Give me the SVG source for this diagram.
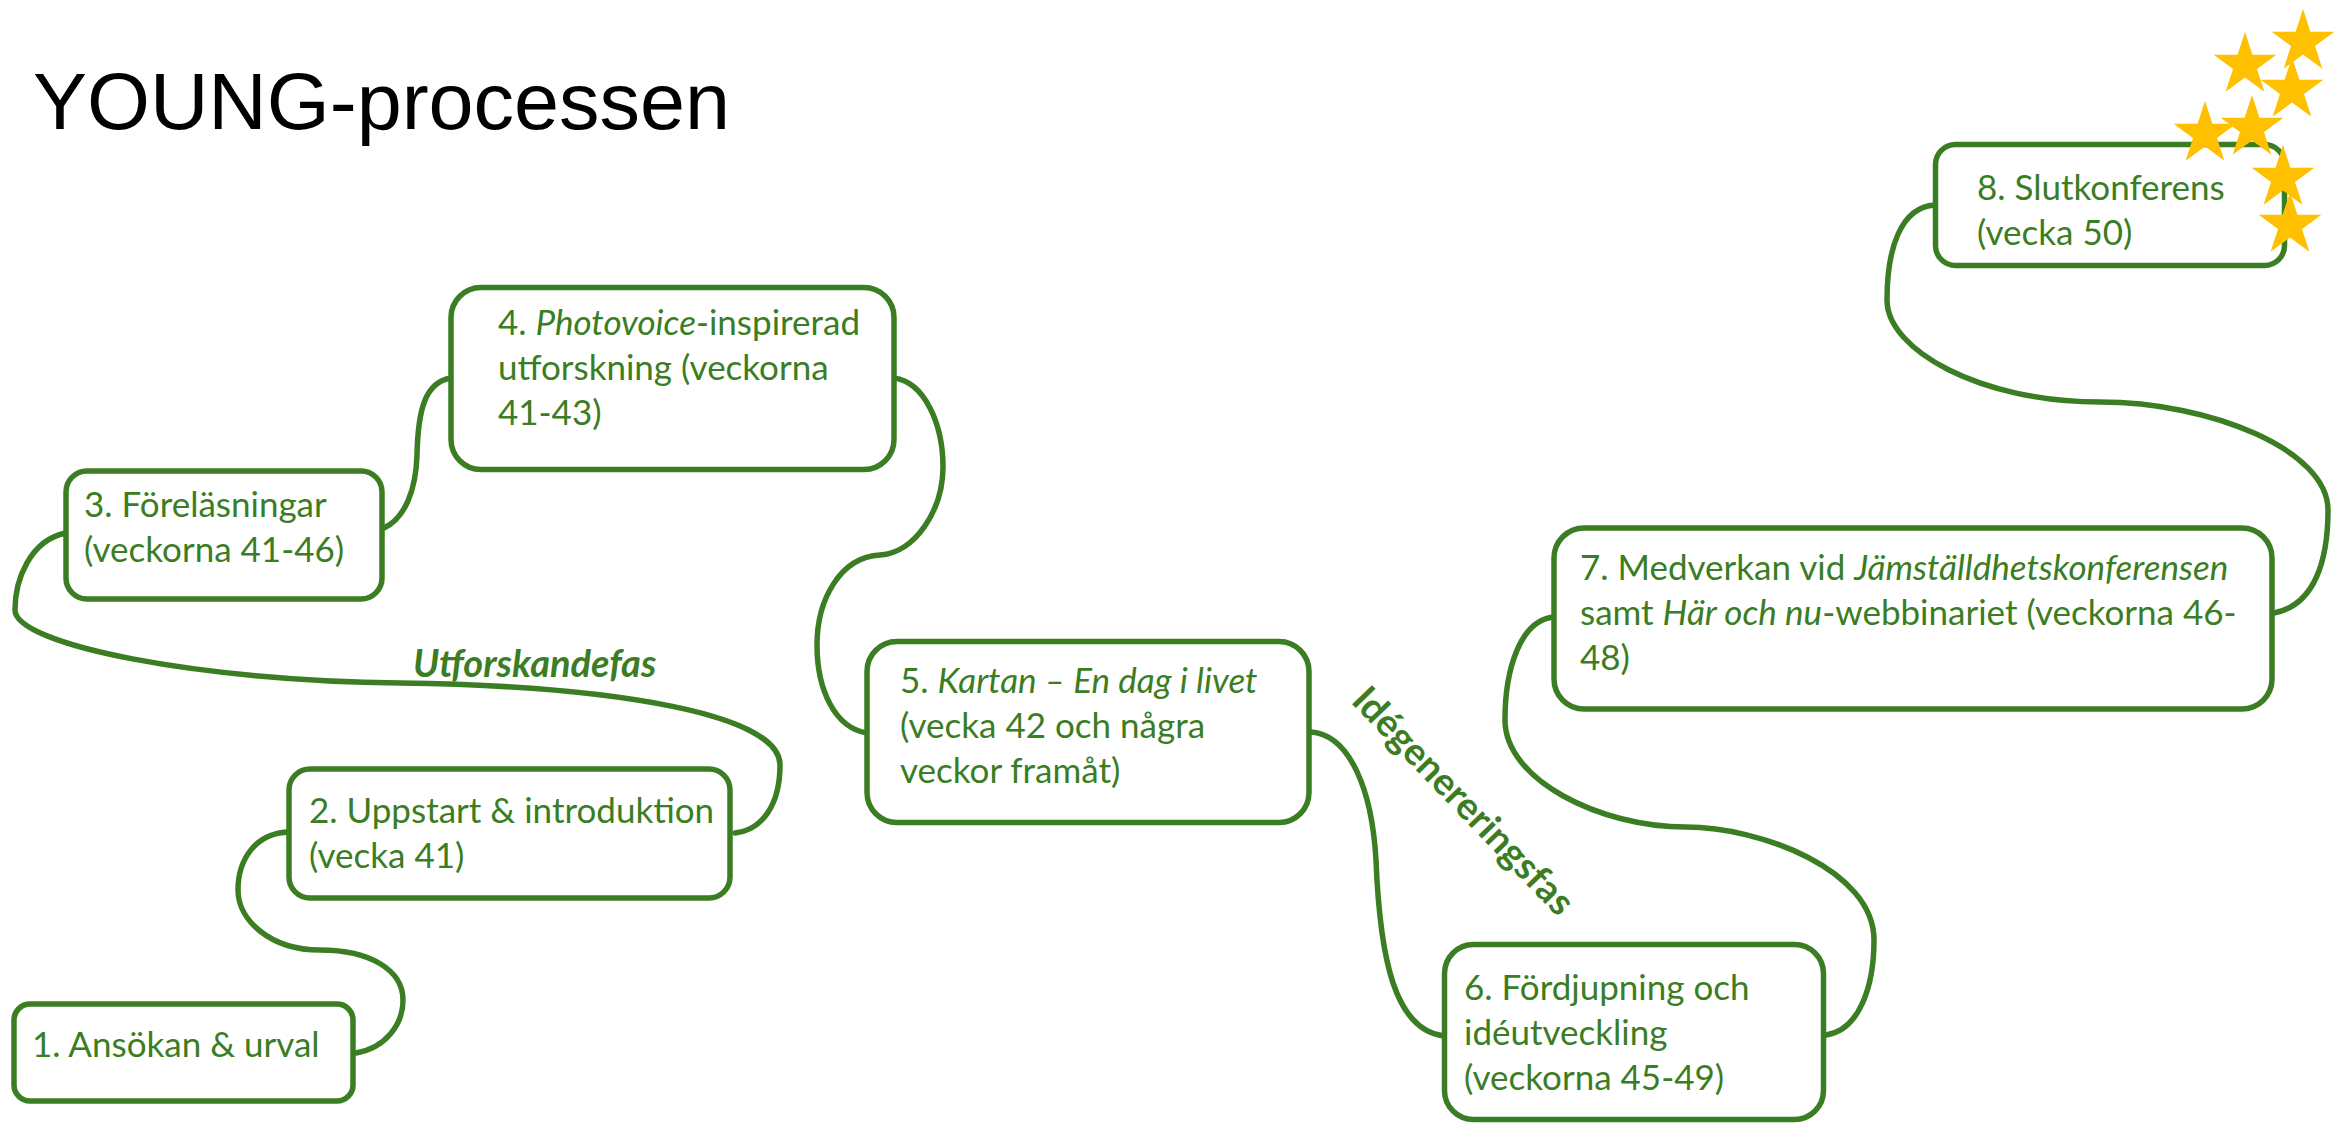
<svg xmlns="http://www.w3.org/2000/svg" xmlns:xlink="http://www.w3.org/1999/xlink" width="2346" height="1126" viewBox="0 0 2346 1126">
<style>
.box{fill:#ffffff;stroke:#3B7D23;stroke-width:5.5}
.con{fill:none;stroke:#3B7D23;stroke-width:5.5;stroke-linecap:round}
.t{font-family:Lato,"Open Sans","Liberation Sans",sans-serif;font-size:35px;fill:#3B7D23}
.i{font-style:italic}
.phase{font-family:Lato,"Open Sans","Liberation Sans",sans-serif;font-size:38px;font-weight:bold;fill:#3B7D23}
.title{font-family:"Liberation Sans",Arial,sans-serif;font-size:80px;fill:#000000}
.star{fill:#FFC000}
</style>
<defs>
<polygon id="star" class="star" points="0,-33 7.41,-10.19 31.38,-10.2 11.98,3.89 19.4,26.7 0,12.6 -19.4,26.7 -11.98,3.89 -31.38,-10.2 -7.41,-10.19"/>
</defs>
<rect width="2346" height="1126" fill="#ffffff"/>
<text class="title" x="33" y="129" textLength="697" lengthAdjust="spacingAndGlyphs">YOUNG-processen</text>

<g id="connectors">
<path class="con" d="M 356 1053 C 385 1048, 403 1025, 403 1000 C 403 970, 370 950, 320 950 C 270 950, 238 920, 238 890 C 238 860, 255 833, 289 832"/>
<path class="con" d="M 735 833 C 762 830, 780 805, 780 765 C 780 715, 620 686, 400 683 C 200 681, 15 645, 15 610 C 15 580, 30 540, 66 533"/>
<path class="con" d="M 384 528 C 405 518, 416 490, 417 455 C 418 410, 425 382, 451 378"/>
<path class="con" d="M 894 378 C 925 382, 943 425, 943 467 C 943 510, 915 553, 880 555 C 840 557, 817 600, 817 645 C 817 690, 835 728, 867 733"/>
<path class="con" d="M 1311 732 C 1350 735, 1372 790, 1376 860 C 1380 960, 1395 1030, 1444 1036"/>
<path class="con" d="M 1826 1035 C 1860 1030, 1874 985, 1874 940 C 1874 870, 1760 827, 1686 827 C 1600 827, 1505 780, 1505 720 C 1505 670, 1520 620, 1554 617"/>
<path class="con" d="M 2274 613 C 2315 605, 2328 560, 2328 510 C 2328 450, 2210 402, 2100 402 C 1980 402, 1887 350, 1887 300 C 1887 250, 1900 207, 1935 205"/>
</g>

<text class="phase" x="413" y="677" font-style="italic">Utforskandefas</text>
<text class="phase" transform="translate(1350 702) rotate(46)" x="0" y="0">Idégenereringsfas</text>

<g id="node1">
<rect class="box" x="14" y="1004" width="339" height="97" rx="16"/>
<text class="t" x="32" y="1057">1. Ansökan &amp; urval</text>
</g>
<g id="node2">
<rect class="box" x="289" y="769" width="441" height="129" rx="21"/>
<text class="t" x="309" y="823">2. Uppstart &amp; introduktion</text>
<text class="t" x="309" y="868">(vecka 41)</text>
</g>
<g id="node3">
<rect class="box" x="66" y="471" width="316" height="128" rx="21"/>
<text class="t" x="84" y="517">3. Föreläsningar</text>
<text class="t" x="84" y="562">(veckorna 41-46)</text>
</g>
<g id="node4">
<rect class="box" x="451" y="287.5" width="443" height="182" rx="30"/>
<text class="t" x="498" y="335">4. <tspan class="i">Photovoice</tspan>-inspirerad</text>
<text class="t" x="498" y="380">utforskning (veckorna</text>
<text class="t" x="498" y="425">41-43)</text>
</g>
<g id="node5">
<rect class="box" x="867" y="641.5" width="442" height="181" rx="30"/>
<text class="t" x="900" y="693">5. <tspan class="i">Kartan – En dag i livet</tspan></text>
<text class="t" x="900" y="738">(vecka 42 och några</text>
<text class="t" x="900" y="783">veckor framåt)</text>
</g>
<g id="node6">
<rect class="box" x="1444.5" y="944.5" width="379" height="175" rx="29"/>
<text class="t" x="1464" y="1000">6. Fördjupning och</text>
<text class="t" x="1464" y="1045">idéutveckling</text>
<text class="t" x="1464" y="1090">(veckorna 45-49)</text>
</g>
<g id="node7">
<rect class="box" x="1554" y="528" width="718" height="181" rx="30"/>
<text class="t" x="1580" y="580">7. Medverkan vid <tspan class="i">Jämställdhetskonferensen</tspan></text>
<text class="t" x="1580" y="625">samt <tspan class="i">Här och nu</tspan>-webbinariet (veckorna 46-</text>
<text class="t" x="1580" y="670">48)</text>
</g>
<g id="node8">
<rect class="box" x="1935.5" y="144.5" width="349" height="121" rx="20"/>
<text class="t" x="1977" y="200">8. Slutkonferens</text>
<text class="t" x="1977" y="245">(vecka 50)</text>
</g>

<g id="stars">
<use xlink:href="#star" href="#star" transform="translate(2303 42)"/>
<use xlink:href="#star" href="#star" transform="translate(2245 65)"/>
<use xlink:href="#star" href="#star" transform="translate(2292 90)"/>
<use xlink:href="#star" href="#star" transform="translate(2205 134)"/>
<use xlink:href="#star" href="#star" transform="translate(2252 128)"/>
<use xlink:href="#star" href="#star" transform="translate(2283 178)"/>
<use xlink:href="#star" href="#star" transform="translate(2290 225)"/>
</g>
</svg>
